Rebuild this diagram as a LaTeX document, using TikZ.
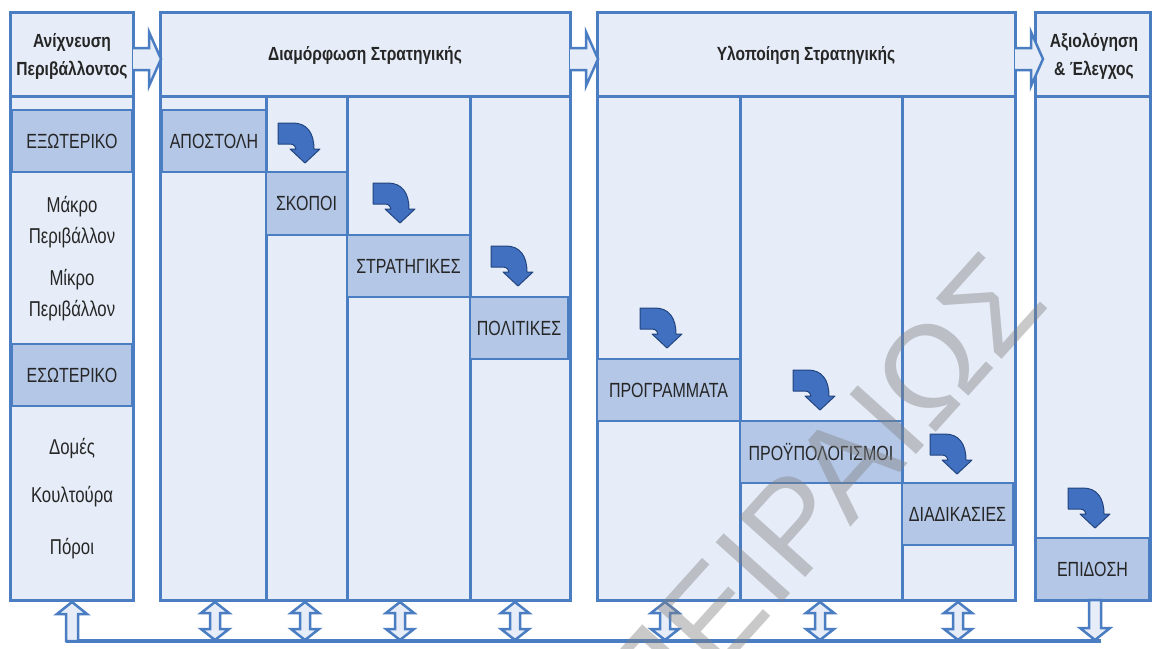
\documentclass[tikz,border=0pt]{standalone}
\usepackage{fontspec}
\setmainfont{Liberation Sans}
\newfontfamily\nar[FakeStretch=0.82]{Liberation Sans}
\newfontfamily\narr[FakeStretch=0.78]{Liberation Sans}
\definecolor{bgc}{HTML}{E7EDF8}
\definecolor{dkc}{HTML}{B4C7E7}
\definecolor{brd}{HTML}{4A7DC2}
\definecolor{arf}{HTML}{4170C0}
\definecolor{aro}{HTML}{22457F}
\definecolor{txt}{HTML}{262626}
\tikzset{
  colbox/.style={fill=bgc, draw=brd, line width=3},
  divline/.style={draw=brd, line width=3},
  inbox/.style={fill=dkc, draw=brd, line width=1.8, inner sep=0, text=txt},
  lbl/.style={text=txt, inner sep=0, font=\narr\fontsize{21.5}{24}\selectfont},
  hdr/.style={text=txt, inner sep=0, font=\nar\bfseries\fontsize{19}{28}\selectfont, align=center},
  blk/.style={fill=bgc, draw=brd, line width=2.5, line join=miter},
  curarr/.pic={\draw[fill=arf, draw=aro, line width=1, line join=round]
     (0,0) -- (15,0) .. controls (29,0) and (36,10) .. (36,26) -- (42,26) -- (27,40) -- (12,26) -- (18,26)
     .. controls (18,24) and (16,21) .. (12,21) -- (0,21) -- cycle;},
  dblarr/.pic={\draw[blk]
     (0,0) -- (14,11) -- (5,11) -- (5,27) -- (14,27) -- (0,38) -- (-14,27) -- (-5,27) -- (-5,11) -- (-14,11) -- cycle;},
  uparr/.pic={\draw[blk]
     (0,0) -- (15,12) -- (6,12) -- (6,39) -- (-6,39) -- (-6,12) -- (-15,12) -- cycle;},
  dnarr/.pic={\draw[blk]
     (0,40) -- (15,28) -- (6,28) -- (6,0) -- (-6,0) -- (-6,28) -- (-15,28) -- cycle;},
  rtarr/.pic={\draw[blk]
     (0,-11) -- (16,-11) -- (16,-27) -- (28,0) -- (16,27) -- (16,11) -- (0,11);}
}
\begin{document}
\begin{tikzpicture}[x=1pt,y=-1pt, every node/.style={font=\narr\fontsize{20.5}{24}\selectfont}]
\useasboundingbox[fill=white] (0,0) rectangle (1156,648);

% bottom connecting line
\draw[brd, line width=4] (66,641) -- (1101,641);

% column 1
\draw[colbox] (10,12) rectangle (133,96);
\draw[colbox] (10,96) rectangle (133,600);
% column 2
\draw[colbox] (160,12) rectangle (570,96);
\draw[colbox] (160,96) rectangle (570,600);
\draw[divline] (266,96) -- (266,600) (347,96) -- (347,600) (470,96) -- (470,600);
% column 3
\draw[colbox] (597,12) rectangle (1015,96);
\draw[colbox] (597,96) rectangle (1015,600);
\draw[divline] (740,96) -- (740,600) (902,96) -- (902,600);
% column 4
\draw[colbox] (1035,12) rectangle (1150,96);
\draw[colbox] (1035,96) rectangle (1150,600);

% header arrows
\pic at (133,59) {rtarr};
\pic at (570,59) {rtarr};
\pic at (1015,59) {rtarr};

% headers
\node[hdr] (h1) at (72,56) {Ανίχνευση\\Περιβάλλοντος};
\node[hdr] (h2) at (365,55) {Διαμόρφωση Στρατηγικής};
\node[hdr] (h3) at (806,55) {Υλοποίηση Στρατηγικής};
\node[hdr] (h4) at (1094,56) {Αξιολόγηση\\\& Έλεγχος};

% column 1 content
\node[inbox, minimum width=119, minimum height=62] (ext) at (72,141) {ΕΞΩΤΕΡΙΚΟ};
\node[lbl] (mak1) at (72,207) {Μάκρο};
\node[lbl] (mak2) at (72,238) {Περιβάλλον};
\node[lbl] (mik1) at (72,280) {Μίκρο};
\node[lbl] (mik2) at (72,311) {Περιβάλλον};
\node[inbox, minimum width=119, minimum height=62] (int) at (72,375) {ΕΣΩΤΕΡΙΚΟ};
\node[lbl] (dom) at (72,448) {Δομές};
\node[lbl] (kou) at (72,497) {Κουλτούρα};
\node[lbl] (por) at (72,549) {Πόροι};

% column 2 content
\node[inbox, minimum width=104, minimum height=62] (apo) at (214,141) {ΑΠΟΣΤΟΛΗ};
\node[inbox, minimum width=81, minimum height=63] (sko) at (306.5,203.5) {ΣΚΟΠΟΙ};
\node[inbox, minimum width=123, minimum height=62] (str) at (408.5,266) {ΣΤΡΑΤΗΓΙΚΕΣ};
\node[inbox, minimum width=98, minimum height=62] (pol) at (519,328) {ΠΟΛΙΤΙΚΕΣ};

% column 3 content
\node[inbox, minimum width=143, minimum height=62] (pro) at (668.5,390) {ΠΡΟΓΡΑΜΜΑΤΑ};
\node[inbox, minimum width=162, minimum height=62] (pry) at (821,452) {ΠΡΟΫΠΟΛΟΓΙΣΜΟΙ};
\node[inbox, minimum width=111, minimum height=62] (dia) at (957.5,514) {ΔΙΑΔΙΚΑΣΙΕΣ};

% column 4 content
\node[inbox, minimum width=113, minimum height=62] (epi) at (1092.5,569) {ΕΠΙΔΟΣΗ};

% curved arrows
\pic at (278,123) {curarr};
\pic at (373,183) {curarr};
\pic at (491,246) {curarr};
\pic at (640,308) {curarr};
\pic at (793,370) {curarr};
\pic at (930,434) {curarr};
\pic at (1068,488) {curarr};

% bottom arrows
\pic at (72,602) {uparr};
\foreach \x in {215,305,400,515,665,820,958} { \pic at (\x,602) {dblarr}; }
\pic at (1095,600) {dnarr};

% watermark
\node[rotate=48, text=gray, opacity=0.42, inner sep=0, font=\fontsize{130}{130}\selectfont] (wm) at (819,495) {ΠΕΙΡΑΙΩΣ};
\end{tikzpicture}
\end{document}
